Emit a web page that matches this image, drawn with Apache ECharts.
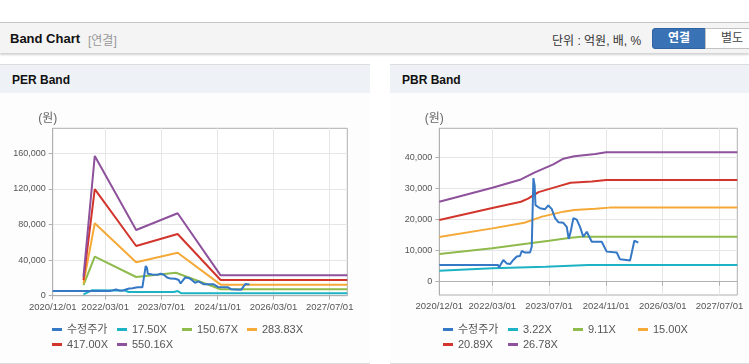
<!DOCTYPE html>
<html>
<head>
<meta charset="utf-8">
<script src="https://cdn.jsdelivr.net/npm/echarts@6/dist/echarts.min.js"></script>
<style>
  body { margin: 0; background: #fff; font-family: "Liberation Sans", "Noto Sans CJK KR", sans-serif; }
  #wrap { position: relative; width: 749px; height: 364px; overflow: hidden; }
  .hdr { position: absolute; left: 0; top: 22px; width: 749px; height: 30px; background: #f4f4f4;
         border-top: 1px solid #c6c6c6; box-shadow: 0 2px 2px rgba(0,0,0,0.18); }
  .hdr .t { position: absolute; left: 10px; top: 8px; font-size: 13px; font-weight: bold; color: #111; }
  .hdr .s { position: absolute; left: 88px; top: 8px; font-size: 12px; color: #999; }
  .hdr .u { position: absolute; left: 552px; top: 8px; font-size: 12px; color: #333; }
  .btn { position: absolute; top: 5px; height: 19px; line-height: 19px; width: 52px; text-align: center; font-size: 12px; }
  .b1 { left: 652px; background: #3a72b6; color: #fff; font-weight: bold; border-radius: 3px 0 0 3px; border: 1px solid #2f62a0; }
  .b2 { left: 705px; background: #fff; color: #444; border: 1px solid #c2c2c2; }
  .panel { position: absolute; top: 64px; height: 298px; border-top: 1px solid #dcdcdc; border-bottom: 1px solid #dcdcdc; background: #fdfdfd; }
  .panel .ttl { height: 28px; background: #eef2f6; font-size: 12px; font-weight: bold; color: #111; line-height: 30px; padding-left: 12px; }
  .chart { position: absolute; top: 93px; height: 270px; }
</style>
</head>
<body>
<div id="wrap">
  <div class="hdr">
    <span class="t">Band Chart</span><span class="s">[연결]</span>
    <span class="u">단위 : 억원, 배, %</span>
    <div class="btn b1">연결</div><div class="btn b2">별도</div>
  </div>
  <div class="panel" style="left:0;width:370px;"><div class="ttl">PER Band</div></div>
  <div class="panel" style="left:390px;width:359px;"><div class="ttl">PBR Band</div></div>
  <div id="per" class="chart" style="left:0;width:370px;"></div>
  <div id="pbr" class="chart" style="left:390px;width:359px;"></div>
</div>
<script>
// 공통 x축 눈금
var xTicks = ['2020-12-01', '2022-03-01', '2023-07-01', '2024-11-01', '2026-03-01', '2027-07-01'];
var xMin = '2020-12-01', xMax = '2027-12-01';

// 수정주가
var price = [
  ['2020-12-01', 5400], ['2022-04-18', 5400], ['2022-04-27', 4600], ['2022-06-03', 7000], ['2022-07-02', 5900],
  ['2022-07-31', 5700], ['2022-08-28', 7000], ['2022-09-26', 8100], ['2022-10-24', 8300], ['2022-11-08', 9900],
  ['2022-12-06', 9400], ['2023-01-18', 9400], ['2023-02-02', 11300], ['2023-02-16', 33400], ['2023-02-27', 31000],
  ['2023-03-06', 24700], ['2023-04-14', 23700], ['2023-05-27', 23400], ['2023-06-24', 24600], ['2023-07-23', 23500],
  ['2023-08-21', 20500], ['2023-09-18', 19200], ['2023-10-31', 19000], ['2023-11-29', 17700], ['2023-12-16', 13800],
  ['2024-01-01', 16000], ['2024-01-25', 20500], ['2024-02-23', 20000], ['2024-03-22', 17700], ['2024-04-19', 14500],
  ['2024-05-19', 16100], ['2024-06-01', 15800], ['2024-07-01', 12900], ['2024-09-24', 12900], ['2024-11-06', 9700],
  ['2025-01-31', 9400], ['2025-02-28', 7200], ['2025-04-06', 7100], ['2025-05-25', 6800], ['2025-06-09', 6800],
  ['2025-07-01', 13200], ['2025-08-04', 12600]
];

// PER 밴드
var perNames = ['17.50X', '150.67X', '283.83X', '417.00X', '550.16X'];
var per1 = [['2021-08-25', 1500], ['2021-11-05', 6000], ['2022-08-20', 5800], ['2022-09-20', 4200], ['2023-10-20', 4200],
            ['2023-11-20', 5200], ['2023-12-20', 2800], ['2027-12-01', 2700]];
var per2 = [['2021-08-25', 12000], ['2021-12-01', 43800], ['2022-11-25', 21000], ['2023-11-05', 25800], ['2024-11-27', 7200], ['2027-12-01', 7200]];
var per3 = [['2021-08-25', 13900], ['2021-12-01', 81300], ['2022-11-25', 37500], ['2023-11-20', 48300], ['2024-11-27', 12400], ['2027-12-01', 12400]];
var per4 = [['2021-08-25', 17600], ['2021-12-01', 119600], ['2022-11-25', 55800], ['2023-11-20', 69300], ['2024-11-27', 17600], ['2027-12-01', 17600]];
var per5 = [['2021-08-25', 21300], ['2021-12-01', 157000], ['2022-11-25', 73800], ['2023-11-20', 92600], ['2024-11-27', 22900], ['2027-12-01', 22900]];
var perYTicks = [0, 40000, 80000, 120000, 160000];

// PBR 밴드
var pbrNames = ['3.22X', '9.11X', '15.00X', '20.89X', '26.78X'];
var pbr1 = [['2020-12-01', 3500], ['2022-03-01', 4300], ['2023-06-01', 4800], ['2024-06-01', 5400], ['2027-12-01', 5400]];
var pbr2 = [['2020-12-01', 8900], ['2022-03-01', 10800], ['2023-01-01', 12300], ['2023-07-01', 13200], ['2024-01-01', 14200],
            ['2024-04-01', 14500], ['2027-12-01', 14500]];
var pbr3 = [['2020-12-01', 14400], ['2022-03-01', 17200], ['2022-12-01', 19000], ['2023-05-01', 21000], ['2023-11-01', 22600],
            ['2024-02-01', 23100], ['2024-08-01', 23500], ['2024-12-01', 23900], ['2027-12-01', 23900]];
var pbr4 = [['2020-12-01', 19900], ['2022-03-01', 23800], ['2022-11-01', 25800], ['2023-01-01', 26800], ['2023-04-01', 28900],
            ['2023-09-01', 30600], ['2024-01-01', 31900], ['2024-07-01', 32300], ['2024-11-01', 32800], ['2027-12-01', 32800]];
var pbr5 = [['2020-12-01', 25800], ['2022-03-01', 30300], ['2022-11-01', 33000], ['2023-03-01', 35300], ['2023-08-01', 37800],
            ['2023-11-01', 39700], ['2024-02-01', 40500], ['2024-08-01', 41200], ['2024-11-01', 41800], ['2027-12-01', 41800]];
var pbrYTicks = [0, 10000, 20000, 30000, 40000];

var colors = ['#3578c6', '#1db2c4', '#8fba4c', '#f5a937', '#d2352b', '#8e519b'];

function ts(s) { var p = s.split('-'); return new Date(+p[0], +p[1] - 1, +p[2]).getTime(); }
function pad(n) { return n < 10 ? '0' + n : '' + n; }
function fmtDate(v) { var d = new Date(v); return d.getFullYear() + '/' + pad(d.getMonth() + 1) + '/' + pad(d.getDate()); }
function fmtNum(v) { return String(v).replace(/\B(?=(\d{3})+(?!\d))/g, ','); }
function toXY(arr) { return arr.map(function (d) { return [ts(d[0]), d[1]]; }); }

function makeOption(g, ymin, ymax, yTicks, names, bands) {
  var tickTs = xTicks.map(ts);
  var series = [{ name: '수정주가', type: 'line', data: toXY(price), z: 5 }];
  bands.forEach(function (b, i) { series.push({ name: names[i], type: 'line', data: toXY(b), z: 2 }); });
  series.forEach(function (s) { s.showSymbol = false; s.symbol = 'none'; s.lineStyle = { width: 2 }; });
  return {
    animation: false,
    color: colors,
    textStyle: { fontFamily: '"Liberation Sans", "Noto Sans CJK KR", sans-serif' },
    grid: { left: g.left, top: g.top, width: g.width, height: g.height, show: true, borderColor: '#b0b0b0', borderWidth: 1, backgroundColor: '#fff' },
    legend: {
      data: ['수정주가'].concat(names),
      left: g.legLeft, top: 229, width: 265, padding: 0,
      icon: 'rect', itemWidth: 10, itemHeight: 3, itemGap: 0,
      textStyle: { fontSize: 11, color: '#555', width: 50, lineHeight: 15 }
    },
    xAxis: {
      type: 'value', min: ts(xMin), max: ts(xMax),
      axisLine: { show: true, lineStyle: { color: '#b0b0b0' } },
      axisTick: { show: true, length: 4, customValues: tickTs, lineStyle: { color: '#b0b0b0' } },
      axisLabel: { customValues: tickTs, formatter: fmtDate, fontSize: 9.5, color: '#555', margin: 7 },
      splitLine: { show: true, lineStyle: { color: '#e6e6e6' } }
    },
    yAxis: {
      type: 'value', min: ymin, max: ymax,
      name: '(원)', nameLocation: 'end', nameGap: 10,
      nameTextStyle: { fontSize: 12, color: '#666', align: 'center', verticalAlign: 'middle', padding: [0, 10, 0, 0] },
      axisLine: { show: true, lineStyle: { color: '#b0b0b0' } },
      axisTick: { show: true, length: 4, customValues: yTicks, lineStyle: { color: '#b0b0b0' } },
      axisLabel: { customValues: yTicks, formatter: fmtNum, fontSize: 9, color: '#555', margin: 7 },
      splitLine: { show: true, lineStyle: { color: '#e6e6e6' } }
    },
    series: series
  };
}

var perChart = echarts.init(document.getElementById('per'));
perChart.setOption(makeOption({ left: 52.7, top: 35.3, width: 294.6, height: 167.4, legLeft: 52 },
  0, 188000, perYTicks, perNames, [per1, per2, per3, per4, per5]));

var pbrChart = echarts.init(document.getElementById('pbr'));
pbrChart.setOption(makeOption({ left: 49.3, top: 35.3, width: 298, height: 166.7, legLeft: 53 },
  -4300, 49500, pbrYTicks, pbrNames, [pbr1, pbr2, pbr3, pbr4, pbr5]));
</script>
</body>
</html>
